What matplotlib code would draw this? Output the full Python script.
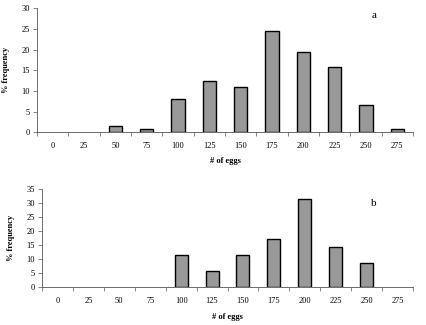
import matplotlib
matplotlib.use('Agg')
import numpy as np
from matplotlib import pyplot as plt

plt.rcParams['font.family'] = ['Liberation Serif', 'DejaVu Serif']

# category labels (# of eggs) and % frequency for panels a and b
eggs = ['0', '25', '50', '75', '100', '125', '150', '175', '200', '225', '250', '275']
freq_a = [0, 0, 1.5, 0.7, 8.0, 12.3, 10.9, 24.5, 19.5, 15.9, 6.5, 0.8]
freq_b = [0, 0, 0, 0, 11.5, 5.7, 11.4, 17.1, 31.5, 14.3, 8.6, 0]

fig = plt.figure(figsize=(4.26, 3.25), dpi=100)
ax_a = fig.add_axes([37/426, (325-132.3)/325, 376/426, 124/325])
ax_b = fig.add_axes([42/426, (325-287.3)/325, 371/426, 98/325])

panels = [(ax_a, freq_a, 30, 'a', 15, 5), (ax_b, freq_b, 35, 'b', 203, 5.5)]
for ax, vals, ymax, letter, ly, xpad in panels:
    x = np.arange(len(eggs))
    lw = [1.0 if v > 0 else 0 for v in vals]
    ax.bar(x, vals, width=0.42, color='#999999', edgecolor='black', linewidth=lw)
    ax.set_xlim(-0.5, len(eggs) - 0.5)
    ax.set_ylim(0, ymax)
    ax.set_yticks(np.arange(0, ymax + 1, 5))
    ax.set_xticks(x)
    ax.set_xticklabels(eggs)
    ax.set_xticks(np.arange(-0.5, len(eggs)), minor=True)
    ax.tick_params(axis='x', which='major', length=0, pad=7, labelsize=6)
    ax.tick_params(axis='x', which='minor', length=3, width=0.5, color='#555555')
    ax.tick_params(axis='y', length=3, width=0.5, labelsize=6, pad=2, color='#555555')
    for s in ['top', 'right']:
        ax.spines[s].set_visible(False)
    for s in ['left', 'bottom']:
        ax.spines[s].set_linewidth(0.6)
        ax.spines[s].set_color('#555555')
    ax.set_ylabel('% frequency', fontsize=6, fontweight='bold', labelpad=8)
    ax.set_xlabel('# of eggs', fontsize=6, fontweight='bold', labelpad=xpad)
    fig.text(374/426, 1 - ly/325, letter, fontsize=8, ha='center', va='center')

fig.savefig('out.png', dpi=100)
